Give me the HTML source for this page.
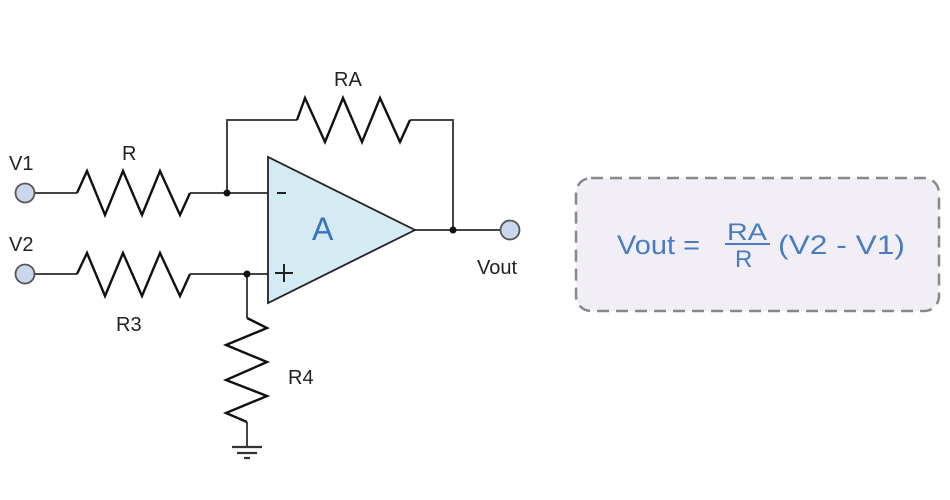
<!DOCTYPE html>
<html><head><meta charset="utf-8"><style>html,body{margin:0;padding:0;background:#fff}svg{display:block}</style></head>
<body>
<svg width="950" height="500" viewBox="0 0 950 500" xmlns="http://www.w3.org/2000/svg">
<g fill="none" stroke="#444" stroke-width="2">
<line x1="35" y1="193" x2="77" y2="193"/>
<line x1="35" y1="274" x2="77" y2="274"/>
<line x1="190" y1="193" x2="268" y2="193"/>
<line x1="190" y1="274" x2="268" y2="274"/>
<polyline points="227,193 227,120 297,120"/>
<polyline points="410,120 453,120 453,230"/>
<line x1="415" y1="230" x2="500" y2="230"/>
<line x1="247" y1="274" x2="247" y2="318"/>
<line x1="247" y1="422" x2="247" y2="447"/>
</g>
<g fill="none" stroke="#111" stroke-width="2.4" stroke-linejoin="miter">
<polyline points="77,193 87,171 105,215 123,171 142,215 160,171 180,215 190,193"/>
<polyline points="77,274 87,253 105,296 123,253 142,296 160,253 180,296 190,274"/>
<polyline points="297,120 305,98 325,142 343,98 362,142 380,98 400,142 410,120"/>
<polyline points="247,318 267,328 226,345 267,362 226,380 267,396 226,413 247,422"/>
</g>
<g stroke="#333" stroke-width="2.2">
<line x1="232" y1="447" x2="262" y2="447"/>
<line x1="237" y1="453" x2="257" y2="453"/>
<line x1="244" y1="458" x2="250" y2="458"/>
</g>
<polygon points="268,157 268,303 415,230" fill="#d4ebf3" stroke="#222" stroke-width="1.8"/>
<g fill="#111"><circle cx="227" cy="193" r="3.5"/><circle cx="247" cy="274" r="3.5"/><circle cx="453" cy="230" r="3.5"/></g>
<g fill="#c9d7ea" stroke="#555" stroke-width="1.8"><circle cx="25" cy="193" r="9.5"/><circle cx="25" cy="274" r="9.5"/><circle cx="510" cy="230" r="9.5"/></g>
<line x1="277" y1="193" x2="286" y2="193" stroke="#222" stroke-width="2"/>
<g stroke="#222" stroke-width="2"><line x1="275" y1="273" x2="293" y2="273"/><line x1="284" y1="264" x2="284" y2="282"/></g>
<g font-family="Liberation Sans, sans-serif" font-size="20" fill="#222">
<text x="9" y="170">V1</text>
<text x="9" y="251">V2</text>
<text x="122" y="160">R</text>
<text x="116" y="331">R3</text>
<text x="334" y="86">RA</text>
<text x="288" y="384">R4</text>
<text x="477" y="274">Vout</text>
</g>
<text x="312" y="240" font-family="Liberation Sans, sans-serif" font-size="32" fill="#3a72c0">A</text>
<rect x="576" y="178" width="363" height="133" rx="15" fill="#f1eef6" stroke="#888" stroke-width="2.5" stroke-dasharray="12,7"/>
<g font-family="Liberation Sans, sans-serif" fill="#4a7cc0">
<text x="617" y="254" font-size="27" textLength="83" lengthAdjust="spacingAndGlyphs">Vout =</text>
<text x="727" y="240" font-size="24" textLength="40" lengthAdjust="spacingAndGlyphs">RA</text>
<text x="735" y="267" font-size="24">R</text>
<text x="778" y="254" font-size="27" textLength="127" lengthAdjust="spacingAndGlyphs">(V2 - V1)</text>
</g>
<line x1="725" y1="244" x2="770" y2="244" stroke="#4a7cc0" stroke-width="2"/>
</svg>
</body></html>
